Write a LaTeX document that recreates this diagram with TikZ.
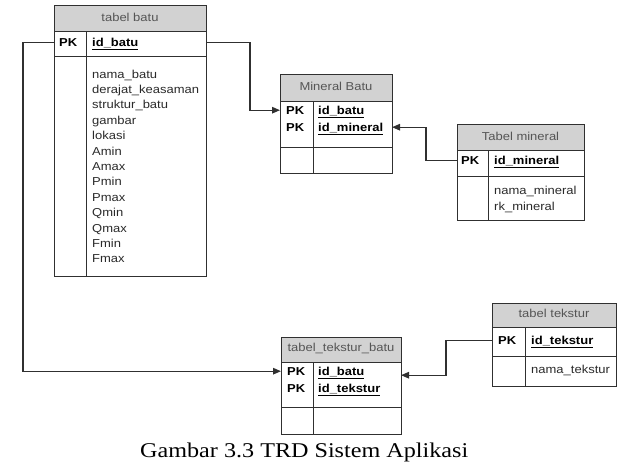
\documentclass[tikz,border=0pt]{standalone}
\usepackage{fontspec}
\usetikzlibrary{arrows.meta}
\newfontfamily\tabfont[FakeStretch=1.13]{Liberation Sans}
\newfontfamily\capfont[FakeStretch=1.15]{Liberation Serif}
\definecolor{linec}{HTML}{303030}
\definecolor{hdrgray}{HTML}{D2D2D2}
\definecolor{txtc}{HTML}{2A2A2A}
\tikzset{
  tblbox/.style={draw=linec, line width=1pt, inner sep=0pt, outer sep=0pt, anchor=north west},
  hdrbox/.style={tblbox, fill=hdrgray},
  hdrtxt/.style={font=\tabfont\fontsize{11.5}{13}\selectfont, text=txtc!80, inner sep=0pt, anchor=mid},
  pktxt/.style={font=\tabfont\bfseries\fontsize{11.5}{13}\selectfont, text=black, inner sep=0pt, anchor=mid west},
  idtxt/.style={font=\tabfont\bfseries\fontsize{11.5}{13}\selectfont, text=black, inner sep=0pt, anchor=mid west},
  attrtxt/.style={font=\tabfont\fontsize{11.5}{13}\selectfont, text=txtc, inner sep=0pt, anchor=mid west},
  divline/.style={draw=linec, line width=1pt},
  conn/.style={draw=linec, line width=1.2pt},
  connarr/.style={conn, -{Triangle[length=8pt,width=6.5pt]}}
}
\newcommand{\uid}[1]{\underline{#1}}
\begin{document}
\begin{tikzpicture}[x=1pt,y=-1pt]
\useasboundingbox (0,0) rectangle (617,462);

% ---------- tabel batu ----------
\node[hdrbox, minimum width=152pt, minimum height=26pt] (tb-h) at (54,6) {};
\node[hdrtxt] at (tb-h.center) {tabel batu};
\node[tblbox, minimum width=152pt, minimum height=25pt] (tb-k) at (54,32) {};
\node[tblbox, minimum width=152pt, minimum height=219pt] (tb-a) at (54,57) {};
\draw[divline] (86,32) -- (86,276);
\node[pktxt] (tb-pk) at (59,44.5) {PK};
\node[idtxt] (tb-id) at (92,44.5) {\uid{id\_batu}};
\foreach \t [count=\i from 0] in {nama\_batu,derajat\_keasaman,struktur\_batu,gambar,lokasi,Amin,Amax,Pmin,Pmax,Qmin,Qmax,Fmin,Fmax}
  \node[attrtxt] at (92,{76+15.4*\i}) {\t};

% ---------- Mineral Batu ----------
\node[hdrbox, minimum width=112pt, minimum height=27pt] (mb-h) at (280,75) {};
\node[hdrtxt] at (mb-h.center) {Mineral Batu};
\node[tblbox, minimum width=112pt, minimum height=46pt] (mb-k) at (280,102) {};
\node[tblbox, minimum width=112pt, minimum height=26pt] (mb-a) at (280,148) {};
\draw[divline] (313,102) -- (313,174);
\node[pktxt] (mb-pk1) at (286,112) {PK};
\node[pktxt] (mb-pk2) at (286,129) {PK};
\node[idtxt] (mb-id1) at (318,112) {\uid{id\_batu}};
\node[idtxt] (mb-id2) at (318,129) {\uid{id\_mineral}};

% ---------- Tabel mineral ----------
\node[hdrbox, minimum width=127pt, minimum height=26pt] (tm-h) at (457,125) {};
\node[hdrtxt] at (tm-h.center) {Tabel mineral};
\node[tblbox, minimum width=127pt, minimum height=26pt] (tm-k) at (457,151) {};
\node[tblbox, minimum width=127pt, minimum height=43pt] (tm-a) at (457,177) {};
\draw[divline] (488,151) -- (488,220);
\node[pktxt] (tm-pk) at (461,162) {PK};
\node[idtxt] (tm-id) at (494,162) {\uid{id\_mineral}};
\node[attrtxt] at (494,192) {nama\_mineral};
\node[attrtxt] at (494,208) {rk\_mineral};

% ---------- tabel_tekstur_batu ----------
\node[hdrbox, minimum width=120pt, minimum height=25pt] (ttb-h) at (281,337) {};
\node[hdrtxt] at (ttb-h.center) {tabel\_tekstur\_batu};
\node[tblbox, minimum width=120pt, minimum height=45pt] (ttb-k) at (281,362) {};
\node[tblbox, minimum width=120pt, minimum height=27pt] (ttb-a) at (281,407) {};
\draw[divline] (313,362) -- (313,434);
\node[pktxt] (ttb-pk1) at (287,373) {PK};
\node[pktxt] (ttb-pk2) at (287,390) {PK};
\node[idtxt] (ttb-id1) at (318,373) {\uid{id\_batu}};
\node[idtxt] (ttb-id2) at (318,390) {\uid{id\_tekstur}};

% ---------- tabel tekstur ----------
\node[hdrbox, minimum width=124pt, minimum height=24pt] (tt-h) at (492,303) {};
\node[hdrtxt] at (tt-h.center) {tabel tekstur};
\node[tblbox, minimum width=124pt, minimum height=29pt] (tt-k) at (492,327) {};
\node[tblbox, minimum width=124pt, minimum height=30pt] (tt-a) at (492,356) {};
\draw[divline] (525,327) -- (525,386);
\node[pktxt] (tt-pk) at (498,342) {PK};
\node[idtxt] (tt-id) at (531,342) {\uid{id\_tekstur}};
\node[attrtxt] at (531,371) {nama\_tekstur};

% ---------- connectors ----------
\draw[connarr] (tb-k.east |- tb-pk) -- ++(44,0) |- (mb-k.west |- mb-pk1);
\draw[connarr] (tb-k.west |- tb-pk) -- ++(-31,0) |- (ttb-k.west |- ttb-pk1);
\draw[connarr] (tm-k.west |- tm-pk) -- ++(-31,0) |- (mb-k.east |- mb-pk2);
\draw[connarr] (tt-k.west |- tt-pk) -- ++(-46,0) |- ([yshift=-4pt]ttb-k.east |- ttb-pk1);

% ---------- caption ----------
\node[font=\capfont\fontsize{21}{24}\selectfont, inner sep=0pt, anchor=base west] (cap) at (140,457) {Gambar 3.3 TRD Sistem Aplikasi};
\end{tikzpicture}
\end{document}
